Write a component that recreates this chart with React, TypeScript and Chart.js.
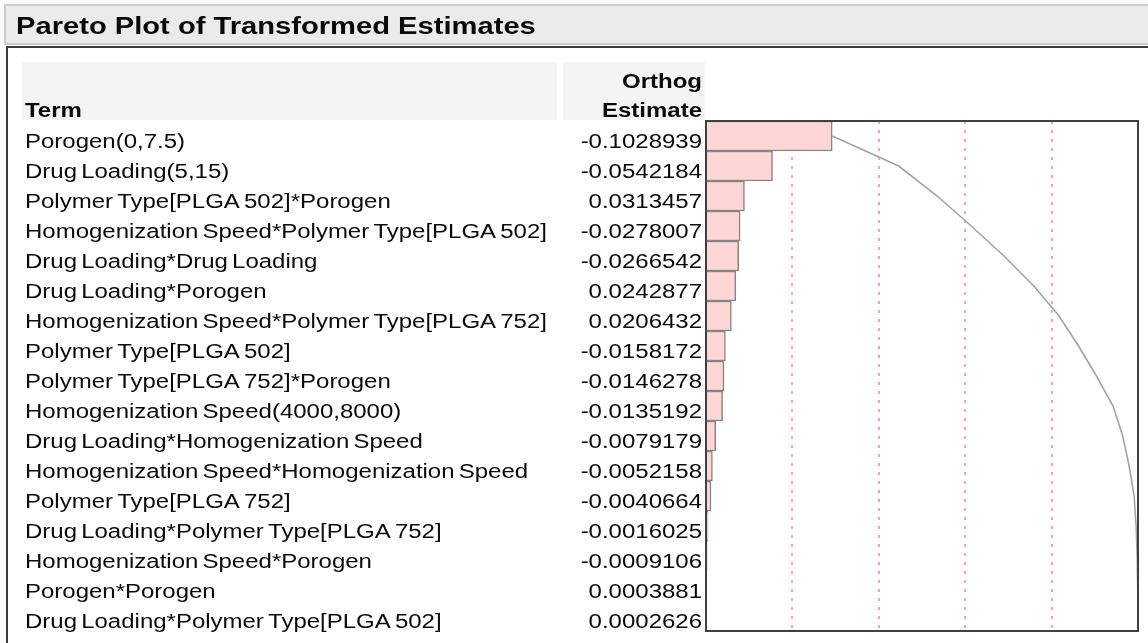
import { useEffect, useRef } from "react";
import { Chart, registerables } from "chart.js";

Chart.register(...registerables);

const TITLE = "Pareto Plot of Transformed Estimates";
const HEADER_TERM = "Term";
const HEADER_EST = ["Orthog", "Estimate"];

const terms = [
  "Porogen(0,7.5)",
  "Drug Loading(5,15)",
  "Polymer Type[PLGA 502]*Porogen",
  "Homogenization Speed*Polymer Type[PLGA 502]",
  "Drug Loading*Drug Loading",
  "Drug Loading*Porogen",
  "Homogenization Speed*Polymer Type[PLGA 752]",
  "Polymer Type[PLGA 502]",
  "Polymer Type[PLGA 752]*Porogen",
  "Homogenization Speed(4000,8000)",
  "Drug Loading*Homogenization Speed",
  "Homogenization Speed*Homogenization Speed",
  "Polymer Type[PLGA 752]",
  "Drug Loading*Polymer Type[PLGA 752]",
  "Homogenization Speed*Porogen",
  "Porogen*Porogen",
  "Drug Loading*Polymer Type[PLGA 502]",
];

const estimates = [
  -0.1028939, -0.0542184, 0.0313457, -0.0278007, -0.0266542, 0.0242877,
  0.0206432, -0.0158172, -0.0146278, -0.0135192, -0.0079179, -0.0052158,
  -0.0040664, -0.0016025, -0.0009106, 0.0003881, 0.0002626,
];

const gridFractions = [0, 0.2, 0.4, 0.6, 0.8, 1];

const FONT = "'Liberation Sans', Arial, sans-serif";
const SX = 1.23;

function drawText(
  ctx: CanvasRenderingContext2D,
  text: string,
  x: number,
  y: number,
  align: CanvasTextAlign,
  font: string,
  sx: number,
  wordSpacing = "0px"
) {
  ctx.save();
  ctx.font = font;
  ctx.fillStyle = "#0a0a0a";
  ctx.textAlign = align;
  ctx.textBaseline = "alphabetic";
  (ctx as any).wordSpacing = wordSpacing;
  ctx.translate(x, y);
  ctx.scale(sx, 1);
  ctx.fillText(text, 0, 0);
  ctx.restore();
}

const decoPlugin = {
  id: "deco",
  beforeDraw(chart: any) {
    const ctx: CanvasRenderingContext2D = chart.ctx;
    const W = chart.width;
    const H = chart.height;
    ctx.save();
    ctx.fillStyle = "#ffffff";
    ctx.fillRect(0, 0, W, H);
    // title bar
    ctx.fillStyle = "#ebebeb";
    ctx.fillRect(4, 4, W - 4, 41);
    ctx.strokeStyle = "#cdcdcd";
    ctx.lineWidth = 2;
    ctx.strokeRect(5, 5, W, 39);
    // panel outline
    ctx.fillStyle = "#3c3c3c";
    ctx.fillRect(6, 46, W - 6, 2);
    ctx.fillRect(6, 46, 2, H - 46);
    // header backgrounds
    ctx.fillStyle = "#f4f4f4";
    ctx.fillRect(22, 62, 535, 58);
    ctx.fillRect(563, 62, 142, 58);
    ctx.restore();

    drawText(ctx, TITLE, 16, 34, "left", `bold 23.5px ${FONT}`, 1.24);
    drawText(ctx, HEADER_TERM, 25, 117, "left", `bold 19.5px ${FONT}`, SX);
    drawText(ctx, HEADER_EST[0], 702, 88, "right", `bold 19.5px ${FONT}`, SX);
    drawText(ctx, HEADER_EST[1], 702, 117, "right", `bold 19.5px ${FONT}`, SX);
  },
  afterDraw(chart: any) {
    const ctx: CanvasRenderingContext2D = chart.ctx;
    const a = chart.chartArea;
    const y = chart.scales.y;
    terms.forEach((t, i) => {
      const py = y.getPixelForValue(i) + 11.5;
      drawText(ctx, t, 25, py, "left", `19.5px ${FONT}`, SX, "-2px");
      drawText(ctx, estimates[i].toFixed(7), 702, py, "right", `19.5px ${FONT}`, SX);
    });
    ctx.save();
    ctx.strokeStyle = "#404040";
    ctx.lineWidth = 2;
    ctx.strokeRect(a.left, a.top, a.right - a.left, a.bottom - a.top);
    ctx.restore();
  },
};

export default function App() {
  const ref = useRef<HTMLCanvasElement>(null);
  useEffect(() => {
    const total = estimates.reduce((s, v) => s + Math.abs(v), 0);
    const shares = estimates.map((v) => Math.abs(v) / total);
    let acc = 0;
    const cumulative = shares.map((v) => (acc += v));
    const chart = new Chart(ref.current as HTMLCanvasElement, {
      type: "bar",
      data: {
        labels: terms,
        datasets: [
          {
            type: "line",
            data: cumulative,
            indexAxis: "y",
            borderColor: "#a3a3a3",
            borderWidth: 1.6,
            pointRadius: 0,
            tension: 0,
            order: 0,
          } as any,
          {
            type: "bar",
            data: shares,
            indexAxis: "y",
            backgroundColor: "#ffd6d6",
            borderColor: "#858585",
            borderWidth: 1.5,
            barPercentage: 1,
            categoryPercentage: 1,
            order: 1,
          } as any,
        ],
      },
      options: {
        indexAxis: "y",
        responsive: false,
        animation: false,
        devicePixelRatio: 1,
        layout: { padding: { left: 706, top: 121, right: 10, bottom: 12 } },
        plugins: { legend: { display: false }, tooltip: { enabled: false } },
        scales: {
          x: {
            min: gridFractions[0],
            max: gridFractions[gridFractions.length - 1],
            afterBuildTicks: (s: any) => {
              s.ticks = gridFractions.map((v) => ({ value: v }));
            },
            ticks: { display: false },
            grid: {
              drawTicks: false,
              lineWidth: 2,
              color: (c: any) =>
                c.tick && (c.tick.value === 0 || c.tick.value === 1)
                  ? "rgba(0,0,0,0)"
                  : "#ffa0b2",
            },
            border: { display: false, dash: [3, 6] },
            afterFit: (s: any) => {
              s.height = 0;
            },
          },
          y: { display: false },
        },
      } as any,
      plugins: [decoPlugin],
    });
    return () => chart.destroy();
  }, []);
  return (
    <div style={{ position: "fixed", left: 0, top: 0, width: 1148, height: 643, background: "#fff" }}>
      <canvas ref={ref} width={1148} height={643} style={{ display: "block", width: 1148, height: 643 }} />
    </div>
  );
}
